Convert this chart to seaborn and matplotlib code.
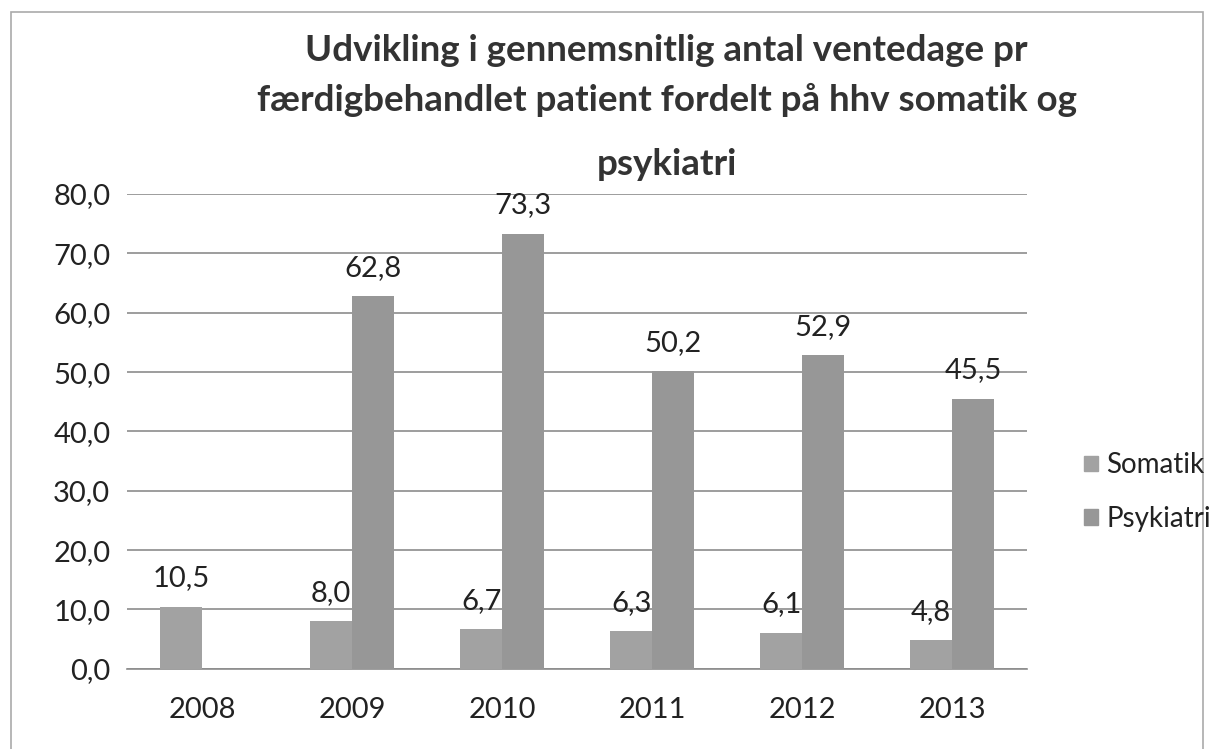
import matplotlib.pyplot as plt
import matplotlib.ticker as mticker
import matplotlib.patches as mpatches
import numpy as np
import pandas as pd
import seaborn as sns

# data
years = ["2008", "2009", "2010", "2011", "2012", "2013"]
somatik = [10.5, 8.0, 6.7, 6.3, 6.1, 4.8]
psykiatri = [np.nan, 62.8, 73.3, 50.2, 52.9, 45.5]
series = ["Somatik", "Psykiatri"]
title_lines = [
    "Udvikling i gennemsnitlig antal ventedage pr",
    "færdigbehandlet patient fordelt på hhv somatik og",
    "psykiatri",
]

df = pd.DataFrame({
    "År": years * 2,
    "Ventedage": somatik + psykiatri,
    "Serie": [series[0]] * len(years) + [series[1]] * len(years),
})

sns.set_style("white")
plt.rcParams["font.family"] = ["Lato", "DejaVu Sans"]

fig = plt.figure(figsize=(12.1, 7.49), dpi=100)
ax = fig.add_axes([0.105, 0.107, 0.744, 0.634])

colors = ["#a2a2a2", "#979797"]
sns.barplot(
    data=df, x="År", y="Ventedage", hue="Serie", ax=ax,
    palette=colors, width=0.56, saturation=1, linewidth=0,
    legend=False, zorder=3,
)

# data labels above bars
for cont in ax.containers:
    labels = ["" if np.isnan(v) else f"{v:.1f}".replace(".", ",") for v in cont.datavalues]
    ax.bar_label(cont, labels=labels, padding=11, fontsize=21, color="#222222")

ax.set_ylim(0, 80)
ax.set_yticks(np.arange(0, 81, 10))
ax.yaxis.set_major_formatter(mticker.FuncFormatter(lambda v, p: f"{v:.1f}".replace(".", ",")))
ax.tick_params(axis="both", labelsize=21, colors="#222222", length=0, pad=12)
ax.tick_params(axis="x", pad=20)
ax.grid(axis="y", color="#8c8c8c", linewidth=1.2, zorder=0)
ax.set_xlabel("")
ax.set_ylabel("")
for s in ["top", "right", "left"]:
    ax.spines[s].set_visible(False)
ax.spines["bottom"].set_color("#8c8c8c")
ax.spines["bottom"].set_linewidth(1.2)

# title, three lines as in the original
for txt, y in zip(title_lines, [0.933, 0.866, 0.780]):
    fig.text(0.551, y, txt, ha="center", va="center", fontsize=26.5,
             fontweight="bold", color="#333333")

# legend
handles = [mpatches.Patch(color=c) for c in colors]
fig.legend(handles, series, loc="upper left", bbox_to_anchor=(0.896, 0.396),
           frameon=False, fontsize=20, handlelength=0.5, handleheight=0.5,
           handletextpad=0.3, labelspacing=1.0, labelcolor="#222222",
           borderaxespad=0, borderpad=0)

# chart border
fig.patches.append(mpatches.Rectangle((0.009, -0.05), 0.985, 1.034, transform=fig.transFigure,
                                      fill=False, edgecolor="#aaaaaa", linewidth=1.2))

fig.savefig("out.png", dpi=100)
